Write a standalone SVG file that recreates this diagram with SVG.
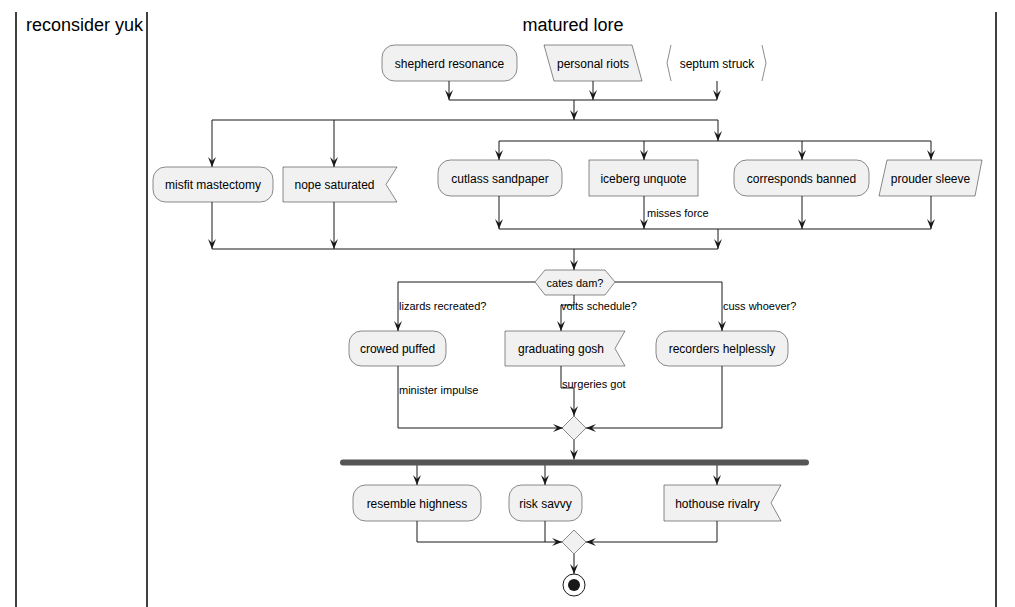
<svg xmlns="http://www.w3.org/2000/svg" width="1015" height="607" viewBox="0 0 1015 607">
<defs>
<style>
.n{fill:#F1F1F1;stroke:#181818;stroke-width:0.5}
.o{fill:none;stroke:#181818;stroke-width:0.5}
.t{font-family:"Liberation Sans",Arial,sans-serif;font-size:12px;fill:#000;text-anchor:middle}
.l{font-family:"Liberation Sans",Arial,sans-serif;font-size:11px;fill:#000}
.h{font-family:"Liberation Sans",Arial,sans-serif;font-size:18px;fill:#000}
.c{fill:none;stroke:#181818;stroke-width:1}
.a{fill:none;stroke:#181818;stroke-width:1;marker-end:url(#ah)}
.lane{stroke:#000;stroke-width:1.5}
</style>
<marker id="ah" markerUnits="userSpaceOnUse" markerWidth="10" markerHeight="8" refX="10" refY="4" orient="auto">
<path d="M0,0 L10,4 L0,8 L4,4 Z" fill="#181818"/>
</marker>
</defs>
<g id="lanes">
<line class="lane" x1="16" y1="12" x2="16" y2="607"/>
<line class="lane" x1="147" y1="12" x2="147" y2="607"/>
<line class="lane" x1="996" y1="12" x2="996" y2="607"/>
<text class="h" x="26" y="31">reconsider yuk</text>
<text class="h" x="573" y="31" text-anchor="middle">matured lore</text>
</g>
<g id="connectors">
<path class="a" d="M449,81 V100"/>
<path class="a" d="M593,81 V100"/>
<path class="a" d="M717,81 V100"/>
<path class="c" d="M449,100 H717"/>
<path class="a" d="M574,100 V120"/>
<path class="c" d="M212,120 H718"/>
<path class="a" d="M212,120 V167"/>
<path class="a" d="M334,120 V167"/>
<path class="a" d="M718,120 V141"/>
<path class="c" d="M499,141 H931"/>
<path class="a" d="M499,141 V160"/>
<path class="a" d="M644,141 V160"/>
<path class="a" d="M802,141 V160"/>
<path class="a" d="M931,141 V160"/>
<path class="a" d="M499,196 V229"/>
<path class="a" d="M644,196 V229"/>
<path class="a" d="M802,196 V229"/>
<path class="a" d="M931,196 V229"/>
<path class="c" d="M499,229 H931"/>
<path class="a" d="M718,229 V249"/>
<path class="a" d="M212,202 V249"/>
<path class="a" d="M334,202 V249"/>
<path class="c" d="M212,249 H718"/>
<path class="a" d="M574,249 V270"/>
<path class="a" d="M535,282 H398 V331"/>
<path class="a" d="M574,295 V305 H561 V331"/>
<path class="a" d="M615,282 H722 V331"/>
<path class="a" d="M398,366 V428 H563"/>
<path class="a" d="M561,366 V388 H574 V416"/>
<path class="a" d="M722,366 V428 H586"/>
<path class="a" d="M574,440 V459.5"/>
<path class="a" d="M417,465 V485"/>
<path class="a" d="M545,465 V485"/>
<path class="a" d="M717,465 V485"/>
<path class="c" d="M417,521 V542 H545"/>
<path class="a" d="M545,521 V542 H562"/>
<path class="a" d="M717,521 V542 H586"/>
<path class="a" d="M574,554 V574"/>
<text class="l" x="647" y="217">misses force</text>
<text class="l" x="399" y="310">lizards recreated?</text>
<text class="l" x="561" y="310">voits schedule?</text>
<text class="l" x="723" y="310">cuss whoever?</text>
<text class="l" x="399" y="394">minister impulse</text>
<text class="l" x="562" y="388">surgeries got</text>
</g>
<g id="shepherd-resonance"><rect class="n" x="382" y="45" width="135" height="36" rx="12.5"/><text class="t" x="449.5" y="67.5">shepherd resonance</text></g>
<g id="personal-riots"><polygon class="n" points="544,45 632,45 642,81 554,81"/><text class="t" x="593" y="67.5">personal riots</text></g>
<g id="septum-struck"><polyline class="o" points="671,45 667,63 671,81"/><polyline class="o" points="762,45 766,63 762,81"/><text class="t" x="717" y="67.5">septum struck</text></g>
<g id="misfit-mastectomy"><rect class="n" x="153" y="167" width="120" height="35" rx="12.5"/><text class="t" x="213" y="189">misfit mastectomy</text></g>
<g id="nope-saturated"><polygon class="n" points="283,167 397,167 386,184.5 397,202 283,202"/><text class="t" x="334.5" y="189">nope saturated</text></g>
<g id="cutlass-sandpaper"><rect class="n" x="438" y="160" width="124" height="36" rx="12.5"/><text class="t" x="500" y="182.5">cutlass sandpaper</text></g>
<g id="iceberg-unquote"><rect class="n" x="589" y="160" width="109" height="36"/><text class="t" x="643.5" y="182.5">iceberg unquote</text></g>
<g id="corresponds-banned"><rect class="n" x="734" y="160" width="135" height="36" rx="12.5"/><text class="t" x="801.5" y="182.5">corresponds banned</text></g>
<g id="prouder-sleeve"><polygon class="n" points="887,160 982,160 975,196 879,196"/><text class="t" x="930.5" y="182.5">prouder sleeve</text></g>
<g id="cates-dam"><polygon class="n" points="535,282 545,270 605,270 615,282 605,295 545,295"/><text class="l" x="575" y="286.5" text-anchor="middle">cates dam?</text></g>
<g id="crowed-puffed"><rect class="n" x="349" y="331" width="97" height="35" rx="12.5"/><text class="t" x="397.5" y="352.5">crowed puffed</text></g>
<g id="graduating-gosh"><polygon class="n" points="505,331 625,331 615,348.5 625,366 505,366"/><text class="t" x="561" y="352.5">graduating gosh</text></g>
<g id="recorders-helplessly"><rect class="n" x="656" y="331" width="132" height="35" rx="12.5"/><text class="t" x="722" y="352.5">recorders helplessly</text></g>
<g id="merge1"><polygon class="n" points="574,416 586,428 574,440 562,428"/></g>
<g id="fork"><rect x="340" y="459.5" width="469" height="6" rx="3" fill="#555555"/></g>
<g id="resemble-highness"><rect class="n" x="353" y="485" width="128" height="36" rx="12.5"/><text class="t" x="417" y="507.5">resemble highness</text></g>
<g id="risk-savvy"><rect class="n" x="509" y="485" width="73" height="36" rx="12.5"/><text class="t" x="545.5" y="507.5">risk savvy</text></g>
<g id="hothouse-rivalry"><polygon class="n" points="664,485 781,485 771,503 781,521 664,521"/><text class="t" x="717.5" y="507.5">hothouse rivalry</text></g>
<g id="merge2"><polygon class="n" points="574,530 586,542 574,554 562,542"/></g>
<g id="end"><circle cx="574" cy="585" r="11" fill="none" stroke="#181818" stroke-width="1"/><circle cx="574" cy="585" r="6" fill="#181818"/></g>
</svg>
